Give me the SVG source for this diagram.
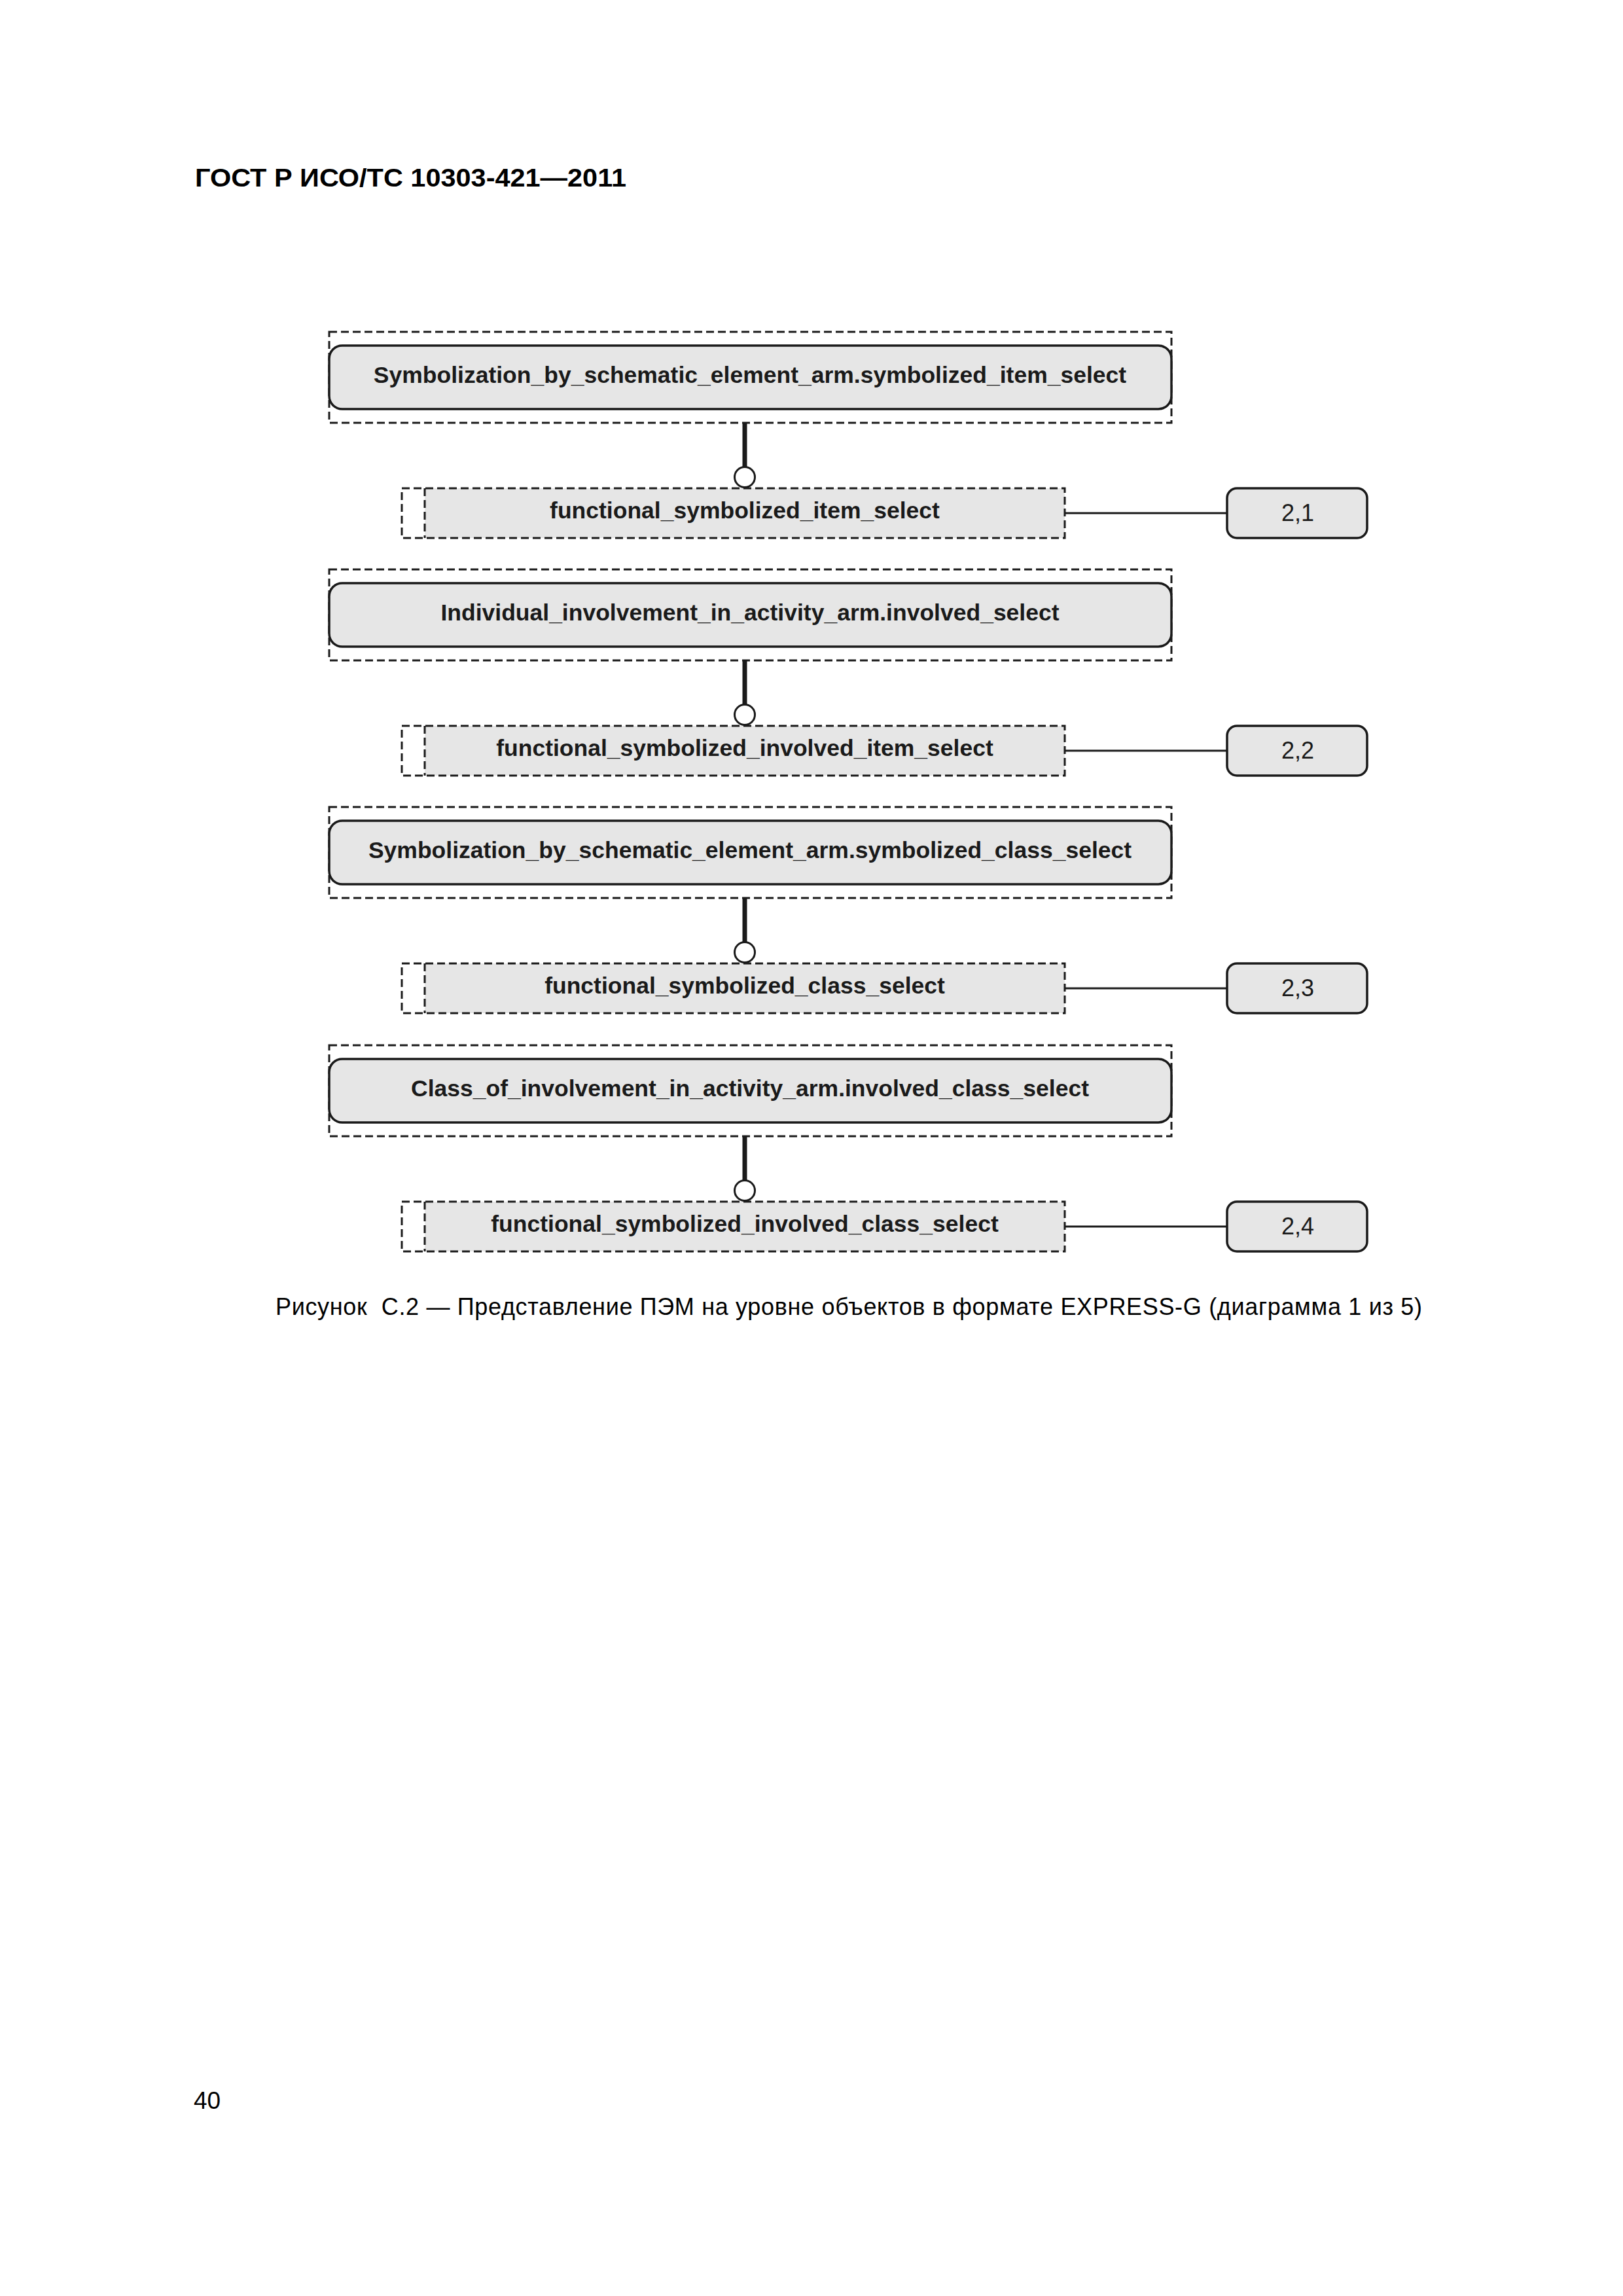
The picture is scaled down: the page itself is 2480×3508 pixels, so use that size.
<svg xmlns="http://www.w3.org/2000/svg" width="2480" height="3508" viewBox="0 0 2480 3508">
<style>
.bg{fill:#ffffff}
.dash{fill:none;stroke:#1a1a1a;stroke-width:3;stroke-dasharray:12 6}
.ent{fill:#e6e6e6;stroke:#1a1a1a;stroke-width:3.5}
.sel{fill:#e6e6e6;stroke:none}
.selw{fill:#ffffff;stroke:none}
.num{fill:#e6e6e6;stroke:#1a1a1a;stroke-width:3.5}
.thick{stroke:#1a1a1a;stroke-width:7;fill:none}
.thin{stroke:#1a1a1a;stroke-width:3;fill:none}
.circ{fill:#ffffff;stroke:#1a1a1a;stroke-width:3}
.lb{font-family:"Liberation Sans",Arial,sans-serif;font-weight:bold;font-size:35.5px;fill:#1a1a1a;text-anchor:middle}
.ln{font-family:"Liberation Sans",Arial,sans-serif;font-size:36px;fill:#1a1a1a;text-anchor:middle}
.t{font-family:"Liberation Sans",Arial,sans-serif;fill:#000}
</style>
<rect class="bg" x="0" y="0" width="2480" height="3508"/>
<text class="t" x="298" y="285" font-size="39" font-weight="bold" textLength="659" lengthAdjust="spacingAndGlyphs">ГОСТ Р ИСО/ТС 10303-421—2011</text>

<g id="connectors">
  <line class="thick" x1="1138" y1="646" x2="1138" y2="714"/>
  <circle class="circ" cx="1138" cy="729" r="15.5"/>
  <line class="thin" x1="1627" y1="784" x2="1875" y2="784"/>
  <line class="thick" x1="1138" y1="1009" x2="1138" y2="1077"/>
  <circle class="circ" cx="1138" cy="1092" r="15.5"/>
  <line class="thin" x1="1627" y1="1147" x2="1875" y2="1147"/>
  <line class="thick" x1="1138" y1="1372" x2="1138" y2="1440"/>
  <circle class="circ" cx="1138" cy="1455" r="15.5"/>
  <line class="thin" x1="1627" y1="1510" x2="1875" y2="1510"/>
  <line class="thick" x1="1138" y1="1736" x2="1138" y2="1804"/>
  <circle class="circ" cx="1138" cy="1819" r="15.5"/>
  <line class="thin" x1="1627" y1="1874" x2="1875" y2="1874"/>
</g>

<g id="node-sym-item">
  <rect class="dash" x="503" y="507" width="1287" height="139"/>
  <rect class="ent" x="503" y="528" width="1287" height="97" rx="20" ry="20"/>
  <text class="lb" x="1146" y="585">Symbolization_by_schematic_element_arm.symbolized_item_select</text>
</g>
<g id="node-fsis">
  <rect class="selw" x="614" y="746" width="35" height="76"/>
  <rect class="sel" x="649" y="746" width="978" height="76"/>
  <rect class="dash" x="614" y="746" width="1013" height="76"/>
  <line class="dash" x1="649" y1="746" x2="649" y2="822"/>
  <text class="lb" x="1138" y="792">functional_symbolized_item_select</text>
</g>
<g id="node-ref-21">
  <rect class="num" x="1875" y="746" width="214" height="76" rx="15" ry="15"/>
  <text class="ln" x="1983" y="796">2,1</text>
</g>

<g id="node-ind-inv">
  <rect class="dash" x="503" y="870" width="1287" height="139"/>
  <rect class="ent" x="503" y="891" width="1287" height="97" rx="20" ry="20"/>
  <text class="lb" x="1146" y="948">Individual_involvement_in_activity_arm.involved_select</text>
</g>
<g id="node-fsiis">
  <rect class="selw" x="614" y="1109" width="35" height="76"/>
  <rect class="sel" x="649" y="1109" width="978" height="76"/>
  <rect class="dash" x="614" y="1109" width="1013" height="76"/>
  <line class="dash" x1="649" y1="1109" x2="649" y2="1185"/>
  <text class="lb" x="1138" y="1155">functional_symbolized_involved_item_select</text>
</g>
<g id="node-ref-22">
  <rect class="num" x="1875" y="1109" width="214" height="76" rx="15" ry="15"/>
  <text class="ln" x="1983" y="1159">2,2</text>
</g>

<g id="node-sym-class">
  <rect class="dash" x="503" y="1233" width="1287" height="139"/>
  <rect class="ent" x="503" y="1254" width="1287" height="97" rx="20" ry="20"/>
  <text class="lb" x="1146" y="1311">Symbolization_by_schematic_element_arm.symbolized_class_select</text>
</g>
<g id="node-fscs">
  <rect class="selw" x="614" y="1472" width="35" height="76"/>
  <rect class="sel" x="649" y="1472" width="978" height="76"/>
  <rect class="dash" x="614" y="1472" width="1013" height="76"/>
  <line class="dash" x1="649" y1="1472" x2="649" y2="1548"/>
  <text class="lb" x="1138" y="1518">functional_symbolized_class_select</text>
</g>
<g id="node-ref-23">
  <rect class="num" x="1875" y="1472" width="214" height="76" rx="15" ry="15"/>
  <text class="ln" x="1983" y="1522">2,3</text>
</g>

<g id="node-class-inv">
  <rect class="dash" x="503" y="1597" width="1287" height="139"/>
  <rect class="ent" x="503" y="1618" width="1287" height="97" rx="20" ry="20"/>
  <text class="lb" x="1146" y="1675">Class_of_involvement_in_activity_arm.involved_class_select</text>
</g>
<g id="node-fsics">
  <rect class="selw" x="614" y="1836" width="35" height="76"/>
  <rect class="sel" x="649" y="1836" width="978" height="76"/>
  <rect class="dash" x="614" y="1836" width="1013" height="76"/>
  <line class="dash" x1="649" y1="1836" x2="649" y2="1912"/>
  <text class="lb" x="1138" y="1882">functional_symbolized_involved_class_select</text>
</g>
<g id="node-ref-24">
  <rect class="num" x="1875" y="1836" width="214" height="76" rx="15" ry="15"/>
  <text class="ln" x="1983" y="1886">2,4</text>
</g>

<text class="t" x="421" y="2009" font-size="36" xml:space="preserve" textLength="1752" lengthAdjust="spacing">Рисунок  С.2 — Представление ПЭМ на уровне объектов в формате EXPRESS-G (диаграмма 1 из 5)</text>
<text class="t" x="296" y="3222" font-size="37">40</text>
</svg>
